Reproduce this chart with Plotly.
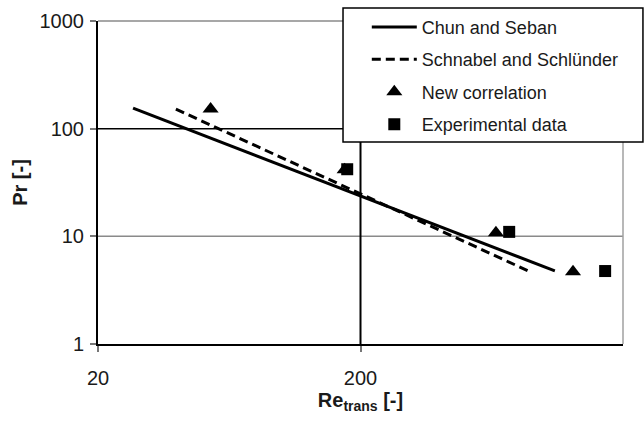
import plotly.graph_objects as go

# Transition Reynolds number vs Prandtl number
chun_re = [27.2, 1100]
chun_pr = [155, 4.78]
schnabel_re = [39.6, 870]
schnabel_pr = [152, 4.78]
newcorr_re = [53.7, 174, 656, 1290]
newcorr_pr = [152, 41.5, 10.8, 4.7]
exp_re = [178, 737, 1710]
exp_pr = [42, 11.0, 4.76]

x_ticks = [20, 200]
y_ticks = [1, 10, 100, 1000]

FONT = "Liberation Sans, Arial, sans-serif"

fig = go.Figure()
fig.add_trace(go.Scatter(x=chun_re, y=chun_pr, mode="lines", name="Chun and Seban",
                         line=dict(color="black", width=3)))
fig.add_trace(go.Scatter(x=schnabel_re, y=schnabel_pr, mode="lines", name="Schnabel and Schlünder",
                         line=dict(color="black", width=3, dash="9px,5px")))
fig.add_trace(go.Scatter(x=newcorr_re, y=newcorr_pr, mode="markers", name="New correlation",
                         marker=dict(symbol="triangle-up", size=14, color="black")))
fig.add_trace(go.Scatter(x=exp_re, y=exp_pr, mode="markers", name="Experimental data",
                         marker=dict(symbol="square", size=12, color="black")))

shapes = [
    # horizontal grid lines (10, 100, 1000) in paper units of the log range
    dict(type="line", xref="paper", yref="paper", x0=0, x1=1, y0=1/3, y1=1/3,
         line=dict(color="#8a8a8a", width=1.5), layer="below"),
    dict(type="line", xref="paper", yref="paper", x0=0, x1=1, y0=2/3, y1=2/3,
         line=dict(color="black", width=1.5), layer="below"),
    dict(type="line", xref="paper", yref="paper", x0=0, x1=1, y0=1, y1=1,
         line=dict(color="#8a8a8a", width=1.5), layer="below"),
    # vertical grid line at 200 and right border
    dict(type="line", xref="paper", yref="paper", x0=0.5, x1=0.5, y0=0, y1=1,
         line=dict(color="black", width=2), layer="below"),
    dict(type="line", xref="paper", yref="paper", x0=1, x1=1, y0=0, y1=1,
         line=dict(color="#a0a0a0", width=1.5), layer="below"),
    # legend frame
    dict(type="rect", xref="paper", yref="paper", x0=0.4667, x1=1.038, y0=0.6254, y1=1.0402,
         line=dict(color="black", width=1.5), fillcolor="white", layer="above"),
]

fig.update_layout(
    width=644, height=422,
    margin=dict(l=98, r=21, t=21, b=78, autoexpand=False),
    paper_bgcolor="white", plot_bgcolor="white",
    font=dict(family=FONT, color="#1a1a1a"),
    shapes=shapes,
    showlegend=True,
    legend=dict(x=0.512, xanchor="left", y=1.038, yanchor="top",
                bgcolor="rgba(0,0,0,0)", borderwidth=0,
                font=dict(size=18, family=FONT, color="#1a1a1a"),
                itemwidth=45, tracegroupgap=6),
    xaxis=dict(type="log", range=[1.30103, 3.30103], tickvals=x_ticks,
               ticktext=[str(v) for v in x_ticks], showgrid=False, zeroline=False,
               showline=True, linecolor="black", linewidth=2, automargin=False,
               ticks="outside", ticklen=6, tickcolor="#777", tickwidth=1.5,
               tickfont=dict(size=20, family=FONT, color="#1a1a1a"),
               ticklabelstandoff=9,
               title=dict(text="<b>Re<sub>trans</sub> [-]</b>", font=dict(size=20, family=FONT),
                          standoff=2)),
    yaxis=dict(type="log", range=[0, 3], tickvals=y_ticks,
               ticktext=[str(v) for v in y_ticks], showgrid=False, zeroline=False,
               showline=True, linecolor="black", linewidth=2, automargin=False,
               ticks="outside", ticklen=6, tickcolor="#777", tickwidth=1.5,
               tickfont=dict(size=20, family=FONT, color="#1a1a1a"),
               ticklabelstandoff=2,
               title=dict(text="<b>Pr [-]</b>", font=dict(size=20, family=FONT),
                          standoff=7)),
)

# separate legend groups so tracegroupgap controls row spacing
for i, tr in enumerate(fig.data):
    tr.legendgroup = f"g{i}"

fig.write_html("out.html")
